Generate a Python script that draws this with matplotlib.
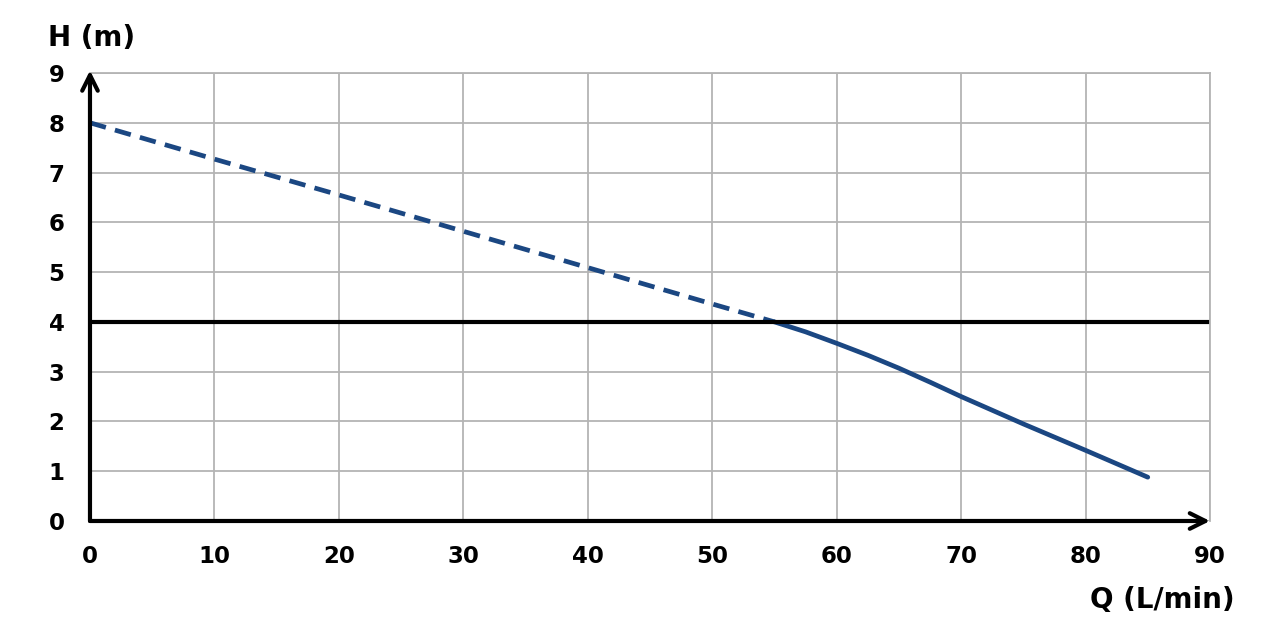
import matplotlib.pyplot as plt
import numpy as np

# pump curve H(Q)
q_dashed = [0, 10, 20, 30, 40, 50, 55]
h_dashed = [8.0, 7.27, 6.55, 5.82, 5.09, 4.36, 4.0]
q_solid = [55, 57.5, 60, 62.5, 65, 67.5, 70, 75, 80, 85]
h_solid = [4.0, 3.8, 3.57, 3.33, 3.07, 2.79, 2.5, 1.95, 1.42, 0.88]
h_limit = 4

x_ticks = list(range(0, 91, 10))
y_ticks = list(range(0, 10))

plt.rcParams['font.family'] = ['DejaVu Sans']
plt.rcParams['font.weight'] = 'bold'

fig = plt.figure(figsize=(12.8, 6.38), dpi=100)
ax = fig.add_axes([0.0703, 0.1834, 0.875, 0.7022])

ax.set_xlim(0, 90)
ax.set_ylim(0, 9)
ax.set_xticks(x_ticks)
ax.set_yticks(y_ticks)
ax.grid(True, color='#b4b4b4', linewidth=1.3)
ax.set_axisbelow(True)
ax.tick_params(length=0, labelsize=16.5)
ax.tick_params(axis='x', pad=17)
ax.tick_params(axis='y', pad=24)
for lab in ax.get_xticklabels() + ax.get_yticklabels():
    lab.set_fontweight('bold')
for lab in ax.get_yticklabels():
    lab.set_horizontalalignment('center')

for s in ['top', 'right']:
    ax.spines[s].set_color('#b4b4b4')
    ax.spines[s].set_linewidth(1.3)
for s in ['left', 'bottom']:
    ax.spines[s].set_visible(False)

color = '#1b4782'
ax.plot(q_dashed, h_dashed, color=color, lw=3.4, ls=(0, (3.5, 2)), solid_capstyle='butt')
ax.plot(q_solid, h_solid, color=color, lw=3.4, solid_capstyle='round')
ax.axhline(h_limit, color='black', lw=3)

# axes with arrows
arrow = dict(arrowstyle='->', color='black', lw=3, mutation_scale=28, shrinkA=0, shrinkB=0)
ax.annotate('', xy=(0, 9.05), xytext=(0, 0), arrowprops=arrow, annotation_clip=False)
ax.annotate('', xy=(90, 0), xytext=(0, 0), arrowprops=arrow, annotation_clip=False)

fig.text(48 / 1280, 1 - 38 / 638, 'H (m)', fontsize=20, fontweight='bold', va='center', ha='left')
fig.text(1235 / 1280, 1 - 600 / 638, 'Q (L/min)', fontsize=20, fontweight='bold', va='center', ha='right')

fig.savefig('out.png', dpi=100)
